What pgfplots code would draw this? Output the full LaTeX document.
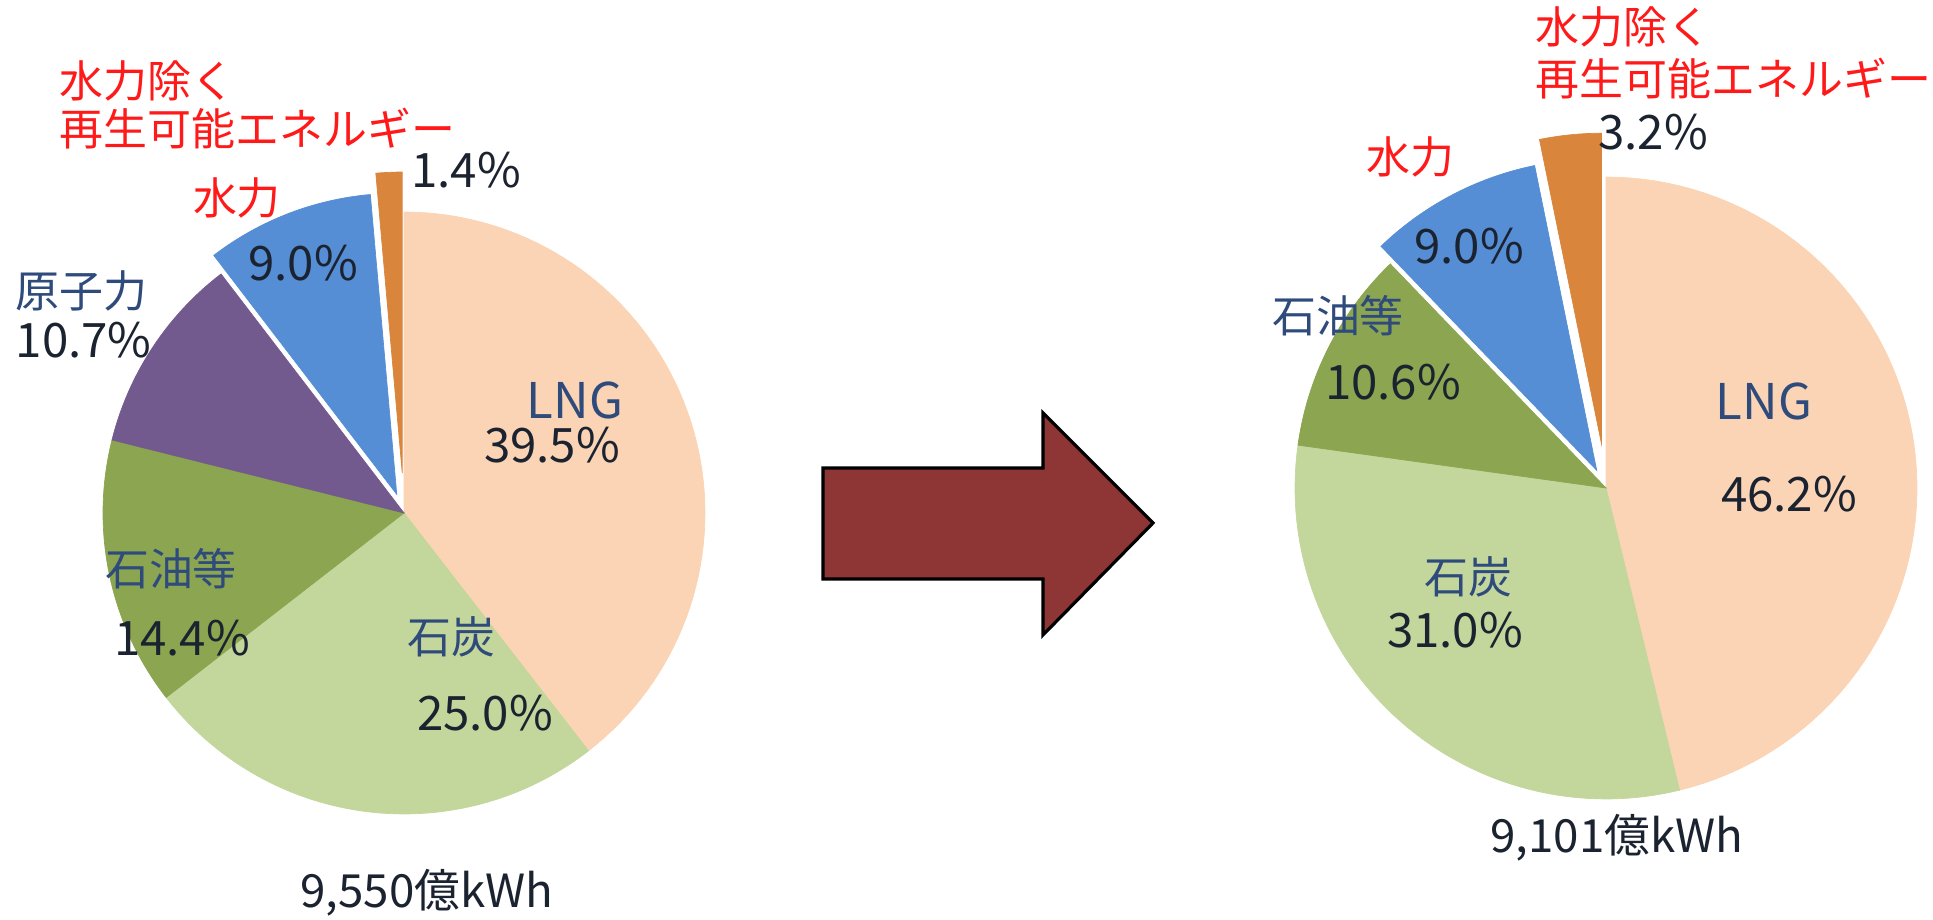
\documentclass[border=0pt]{standalone}
\usepackage{pgfplots}
\pgfplotsset{compat=1.18}
\usepackage{fontspec}
\setmainfont{Noto Sans CJK JP}
\definecolor{cLNG}{HTML}{FAD4B4}
\definecolor{cCoal}{HTML}{C3D69B}
\definecolor{cOil}{HTML}{8BA550}
\definecolor{cNuc}{HTML}{735A8E}
\definecolor{cHyd}{HTML}{558ED5}
\definecolor{cRen}{HTML}{D9853B}
\definecolor{cArrow}{HTML}{8E3535}
\definecolor{cLab}{HTML}{2F4B7C}
\definecolor{cNum}{HTML}{1C2330}
\definecolor{cRed}{HTML}{FF1A1A}
\tikzset{
  jp/.style={font=\fontsize{12.5}{15}\selectfont, inner sep=0pt, text height=0.81em, text depth=0.07em},
  num/.style={font=\fontsize{13.5}{16}\selectfont, inner sep=0pt, text=cNum, text height=0.73em, text depth=0pt},
  lng/.style={font=\fontsize{14}{16}\selectfont, inner sep=0pt, text=cLab, text height=0.73em, text depth=0pt},
  tot/.style={font=\fontsize{13}{16}\selectfont, inner sep=0pt, text=cNum, text height=0.81em, text depth=0.07em}}
% #1 colour, #2 cx, #3 cy, #4 radius, #5 cumulative start (%), #6 share (%), #7 explode
\newcommand{\slice}[7]{%
  \addplot[fill=#1, draw=#1, line width=0.2pt, mark=none, samples=72, variable=\t,
    domain={90-3.6*(#5)}:{90-3.6*(#5+#6)}]
  ({#2+#7*cos(90-3.6*(#5+#6/2))+#4*cos(\t)}, {#3+#7*sin(90-3.6*(#5+#6/2))+#4*sin(\t)})
  -- (axis cs:{#2+#7*cos(90-3.6*(#5+#6/2))},{#3+#7*sin(90-3.6*(#5+#6/2))}) -- cycle;}
\begin{document}
\begin{tikzpicture}
\begin{axis}[hide axis, scale only axis, width=19.33cm, height=9.2cm,
  xmin=0, xmax=1933, ymin=0, ymax=920, clip=false]
% ---- left pie: 9,550 億kWh
\slice{cLNG}{404}{407}{301}{0}{39.5}{0}
\slice{cCoal}{404}{407}{301}{39.5}{25.0}{0}
\slice{cOil}{404}{407}{301}{64.5}{14.4}{0}
\slice{cNuc}{404}{407}{301}{78.9}{10.7}{0}
\slice{cHyd}{404}{407}{301}{89.6}{9.0}{20}
\slice{cRen}{404}{407}{301}{98.6}{1.4}{40}
% ---- right pie: 9,101 億kWh
\slice{cLNG}{1606}{432}{311}{0}{46.2}{0}
\slice{cCoal}{1606}{432}{311}{46.2}{31.0}{0}
\slice{cOil}{1606}{432}{311}{77.2}{10.6}{0}
\slice{cHyd}{1606}{432}{311}{87.8}{9.0}{20}
\slice{cRen}{1606}{432}{311}{96.8}{3.2}{44}
% ---- arrow
\addplot[fill=cArrow, draw=black, line width=0.9pt, mark=none] coordinates
  {(823,452) (1043,452) (1043,507) (1153,397) (1043,285) (1043,341) (823,341)} -- cycle;
% ---- left labels
\node[jp, anchor=west, text=cRed] at (axis cs:59,836) {水力除く};
\node[jp, anchor=west, text=cRed] at (axis cs:59,787) {再生可能エネルギー};
\node[num] at (axis cs:466,745) {1.4\%};
\node[jp, text=cRed] at (axis cs:237,718) {水力};
\node[num] at (axis cs:303,652) {9.0\%};
\node[jp, anchor=west, text=cLab] at (axis cs:15,625) {原子力};
\node[num, anchor=west] at (axis cs:15,575) {10.7\%};
\node[lng] at (axis cs:575,514) {LNG};
\node[num] at (axis cs:552,470) {39.5\%};
\node[jp, text=cLab] at (axis cs:171,347) {石油等};
\node[num] at (axis cs:182,277) {14.4\%};
\node[jp, text=cLab] at (axis cs:451,279) {石炭};
\node[num] at (axis cs:485,202) {25.0\%};
\node[tot] at (axis cs:427,25) {9,550億kWh};
% ---- right labels
\node[jp, anchor=west, text=cRed] at (axis cs:1535,890) {水力除く};
\node[jp, anchor=west, text=cRed] at (axis cs:1535,838) {再生可能エネルギー};
\node[num] at (axis cs:1653,783) {3.2\%};
\node[jp, text=cRed] at (axis cs:1410,760) {水力};
\node[num] at (axis cs:1469,669) {9.0\%};
\node[jp, text=cLab] at (axis cs:1338,600) {石油等};
\node[num] at (axis cs:1393,533) {10.6\%};
\node[lng] at (axis cs:1764,513) {LNG};
\node[num] at (axis cs:1789,421) {46.2\%};
\node[jp, text=cLab] at (axis cs:1468,339) {石炭};
\node[num] at (axis cs:1455,285) {31.0\%};
\node[tot] at (axis cs:1617,80) {9,101億kWh};
\end{axis}
\pgfresetboundingbox
\path[use as bounding box] (current axis.south west) rectangle (current axis.north east);
\end{tikzpicture}
\end{document}
